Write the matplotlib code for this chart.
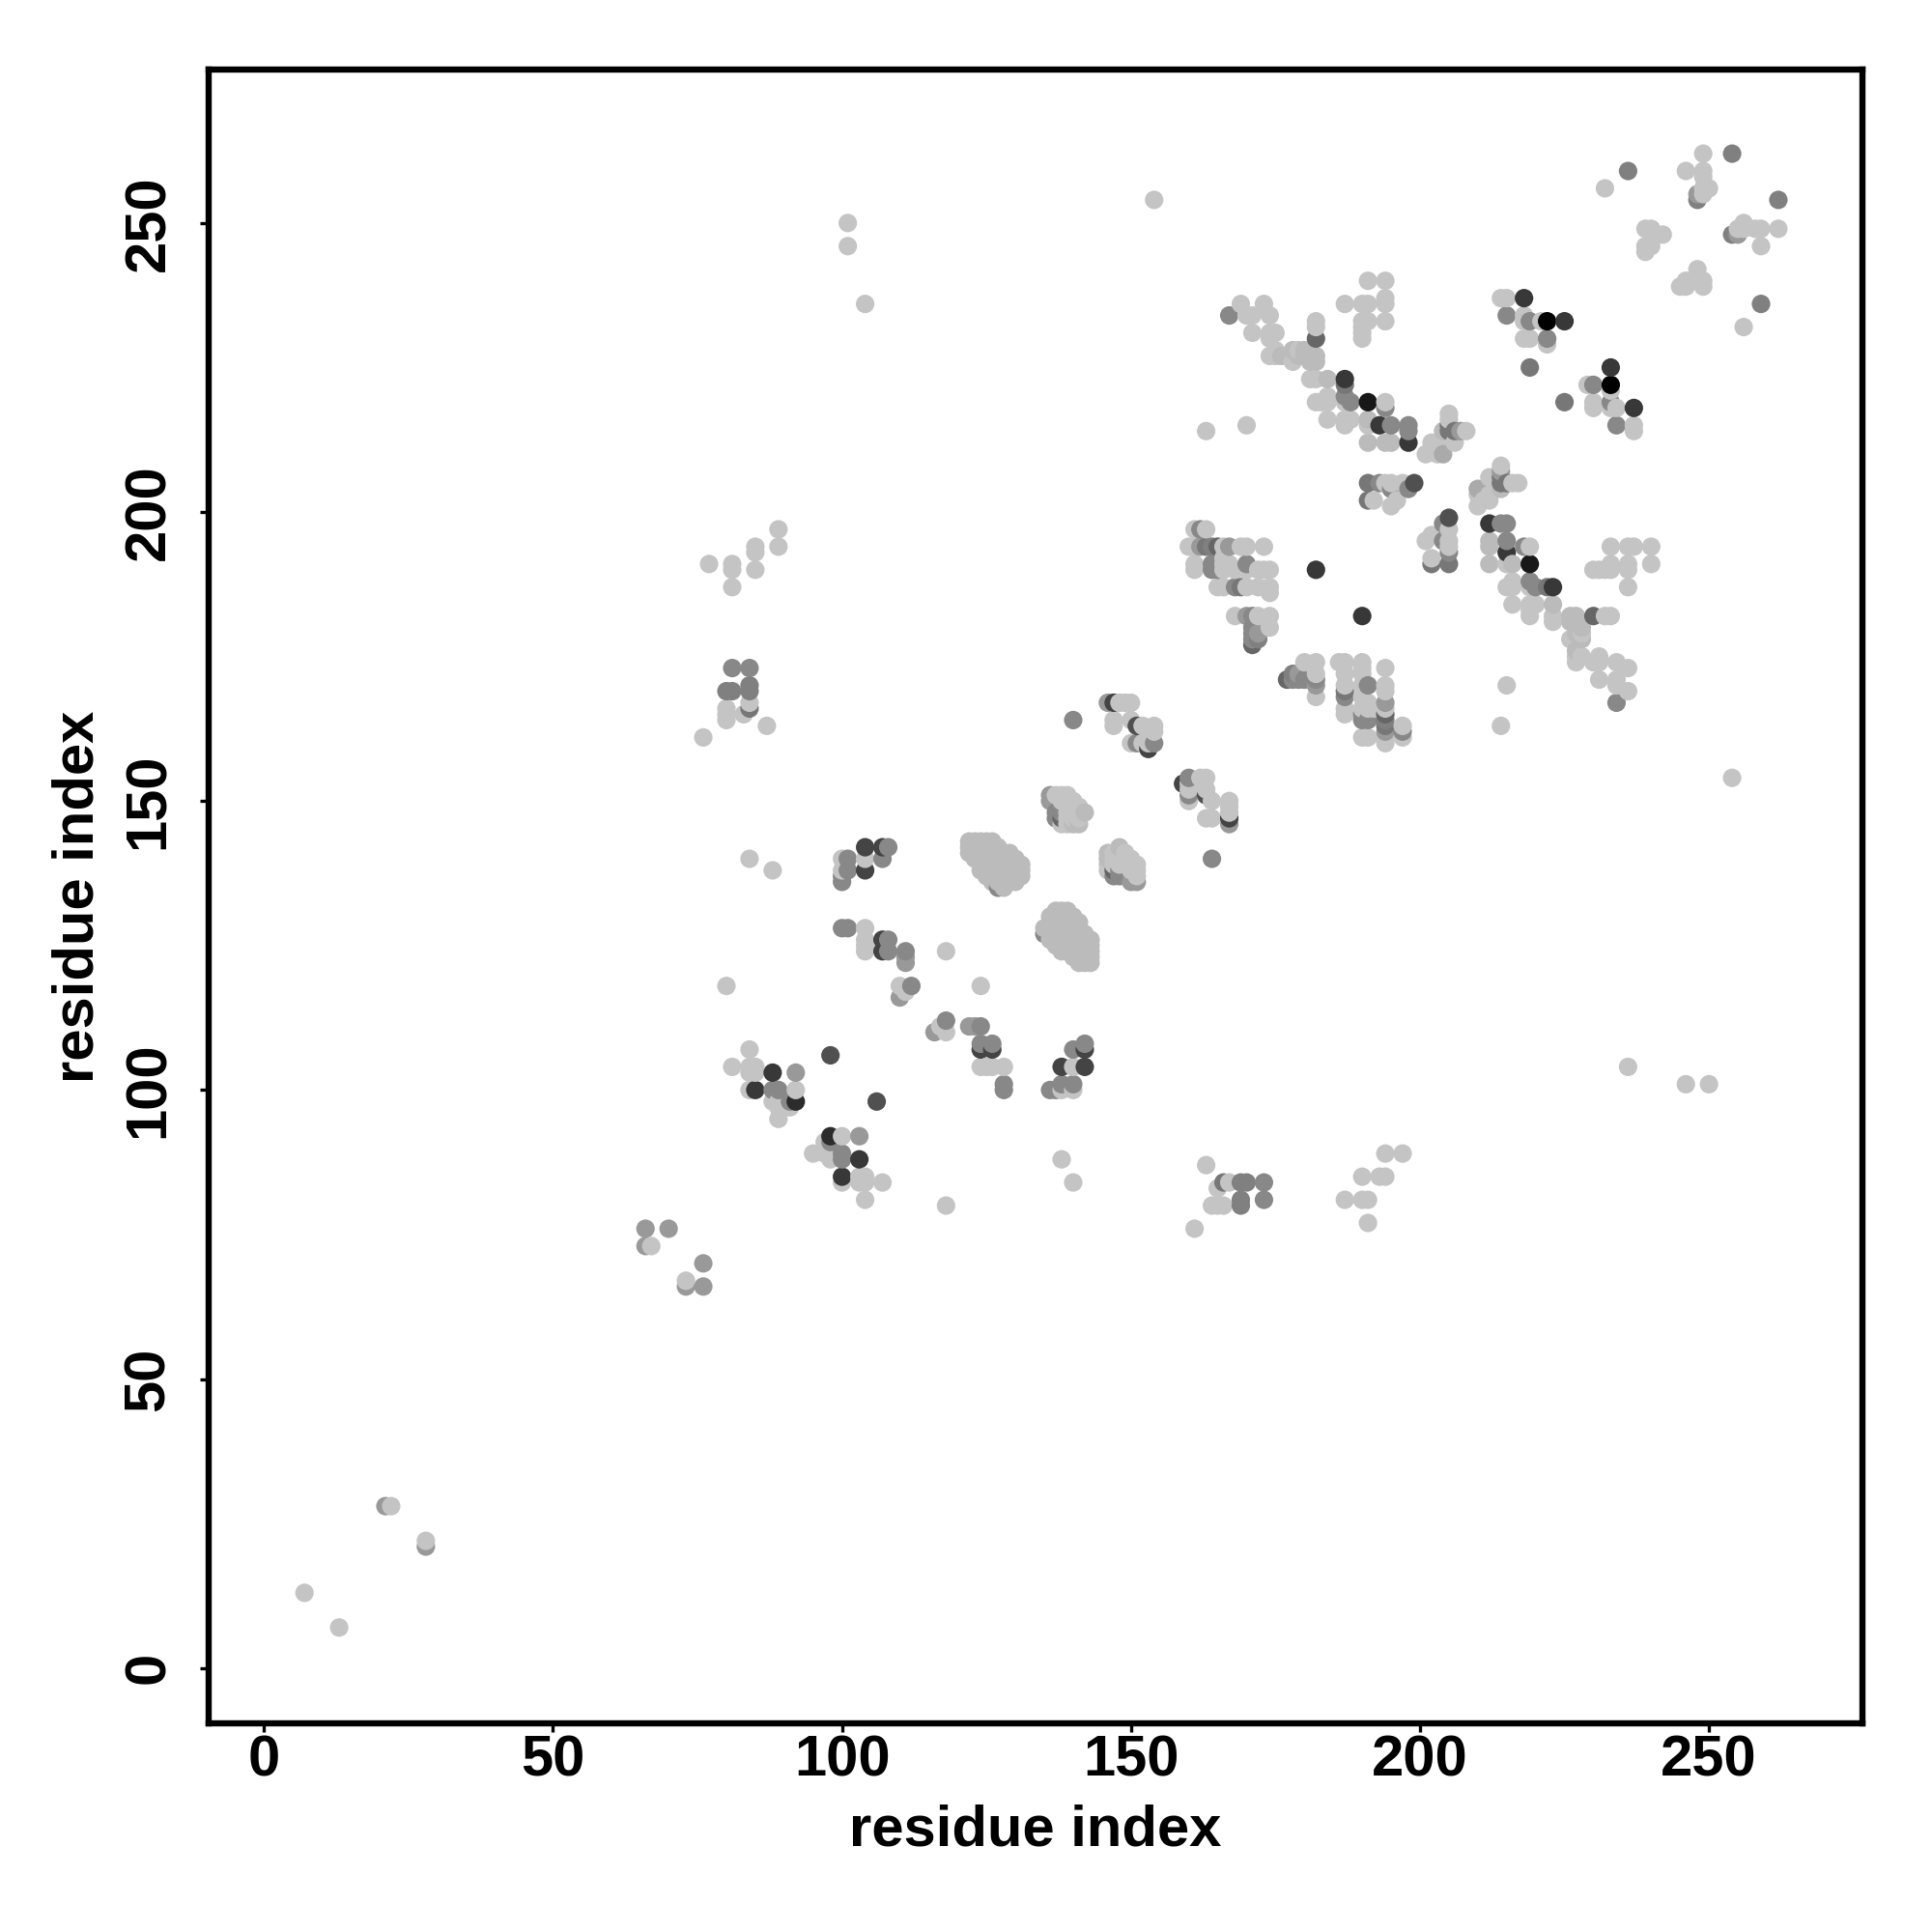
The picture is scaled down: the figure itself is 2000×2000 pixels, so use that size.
import matplotlib
matplotlib.use("Agg")
import matplotlib.pyplot as plt

tick_values = [0, 50, 100, 150, 200, 250]
axis_label = "residue index"

# contacts (i < j) grouped by the grey level of their dot
contacts_00 = [(222, 233)]
contacts_18 = [(191, 219)]
contacts_2c = [(92, 98)]
contacts_38 = [(88, 103), (85, 100), (187, 223), (218, 237), (225, 233), (182, 190), (193, 215), (198, 212)]
contacts_44 = [(104, 142), (107, 142), (104, 138), (107, 124), (107, 126), (147, 167), (153, 159)]
contacts_50 = [(98, 106), (151, 163), (199, 205)]
contacts_66 = [(165, 194), (171, 177), (138, 147), (182, 230)]
contacts_77 = [(163, 194), (169, 187), (191, 205), (191, 202), (219, 225), (205, 214), (205, 215), (206, 214),
               (187, 222), (84, 166)]
contacts_80 = [(80, 169), (81, 169), (84, 169), (84, 170), (164, 194), (236, 259), (254, 262), (248, 254), (172, 178)]
contacts_88 = [(88, 100), (89, 100), (91, 98), (100, 128), (101, 128), (101, 140), (101, 138), (100, 137),
               (100, 136), (107, 140), (108, 142), (108, 124), (108, 126), (111, 124), (112, 118), (84, 173),
               (81, 173), (138, 148), (137, 148), (137, 147), (127, 135), (151, 160), (154, 160), (140, 164),
               (168, 187), (164, 191), (164, 190), (165, 190), (170, 191), (171, 178), (171, 179), (171, 180),
               (171, 182), (162, 197), (167, 234), (193, 205), (198, 204), (195, 204), (198, 215), (198, 214),
               (195, 215), (215, 234), (219, 233), (222, 230), (194, 218), (187, 220), (188, 219)]
contacts_99 = [(21, 28), (66, 73), (66, 76), (70, 76), (92, 103), (111, 122), (111, 123), (110, 116), (146, 167),
               (136, 151), (136, 150), (172, 179), (170, 182), (167, 194), (162, 194), (207, 214), (248, 255)]
contacts_aa = [(204, 210)]
contacts_bb = [
    (122, 141), (122, 142), (122, 143),
    (123, 140), (123, 141), (123, 142), (123, 143),
    (124, 138), (124, 139), (124, 140), (124, 141), (124, 142), (124, 143),
    (125, 137), (125, 138), (125, 139), (125, 140), (125, 141), (125, 142), (125, 143),
    (126, 136), (126, 137), (126, 138), (126, 139), (126, 140), (126, 141), (126, 142), (126, 143),
    (127, 136), (127, 137), (127, 138), (127, 139), (127, 140), (127, 141), (127, 142),
    (128, 135), (128, 136), (128, 137), (128, 138), (128, 139), (128, 140), (128, 141),
    (129, 136), (129, 137), (129, 138), (129, 139), (129, 140), (129, 141),
    (130, 136), (130, 137), (130, 138), (130, 139), (130, 140),
    (131, 137), (131, 138), (131, 139),
    (142, 148), (141, 146), (140, 146), (184, 223), (191, 216), (191, 212), (194, 212), (195, 212),
    (204, 214), (178, 228), (180, 228), (179, 227), (180, 227), (181, 226), (182, 226), (182, 227), (176, 227),
]
contacts_c4 = [
    (7, 13), (22, 28), (67, 73), (80, 118), (81, 104), (84, 100), (84, 103), (84, 104), (85, 103),
    (85, 104), (84, 107), (88, 98), (89, 98), (89, 97), (89, 95), (91, 97), (92, 100), (100, 140),
    (100, 138), (104, 140), (104, 124), (104, 125), (104, 126), (104, 128), (84, 140), (88, 138),
    (110, 118), (111, 117), (118, 124), (76, 161), (80, 164), (80, 165), (80, 166), (83, 165),
    (84, 167), (87, 163), (77, 191), (81, 190), (81, 191), (81, 187), (85, 190), (85, 193), (85, 194),
    (89, 194), (89, 197), (101, 246), (101, 250), (104, 236), (154, 254), (163, 214), (170, 215),
    (137, 151), (138, 151), (139, 151), (138, 150), (139, 150), (140, 150), (139, 149), (140, 149),
    (141, 149), (139, 148), (140, 148), (141, 148), (139, 147), (140, 147), (141, 147), (138, 146),
    (139, 146), (148, 167), (149, 167), (150, 167), (147, 164), (147, 163), (150, 164), (152, 163),
    (154, 163), (154, 162), (150, 160), (152, 160), (153, 160), (161, 190), (161, 191), (161, 194),
    (160, 194), (161, 197), (163, 197), (166, 194), (169, 194), (170, 194), (173, 194), (166, 192),
    (166, 190), (166, 191), (167, 191), (168, 190), (170, 190), (172, 190), (173, 190), (174, 190),
    (165, 187), (166, 187), (170, 187), (172, 187), (174, 187), (174, 186), (168, 182), (172, 182),
    (174, 182), (174, 180), (169, 236), (173, 236), (170, 234), (171, 234), (174, 234), (171, 231),
    (174, 231), (175, 231), (174, 230), (174, 227), (175, 228), (175, 227), (179, 228), (178, 226),
    (182, 233), (182, 232), (181, 223), (182, 223), (182, 219), (183, 219), (184, 219), (184, 220),
    (187, 219), (184, 216), (187, 215), (187, 216), (188, 216), (191, 215), (191, 240), (194, 240),
    (187, 236), (190, 236), (191, 236), (194, 237), (194, 236), (190, 233), (191, 233), (194, 233),
    (190, 230), (190, 231), (190, 232), (192, 202), (194, 219), (195, 205), (197, 205), (196, 202),
    (195, 201), (202, 212), (203, 212), (202, 211), (206, 212), (208, 214), (205, 217), (205, 216),
    (201, 210), (203, 210), (214, 237), (215, 237), (218, 234), (218, 233), (221, 233), (218, 230),
    (219, 230), (222, 229), (230, 219), (230, 218), (233, 221), (234, 218), (237, 215), (237, 214),
    (232, 256), (246, 259), (249, 259), (249, 258), (249, 262), (250, 256), (249, 255), (249, 256),
    (239, 249), (240, 249), (242, 248), (240, 246), (239, 246), (239, 245), (194, 205), (195, 205),
]

shade_levels = [0xc4, 0xbb, 0xaa, 0x99, 0x88, 0x80, 0x77, 0x66, 0x50, 0x44, 0x38, 0x2c, 0x18, 0x00]
shade_groups = [contacts_c4, contacts_bb, contacts_aa, contacts_99, contacts_88, contacts_80, contacts_77,
                contacts_66, contacts_50, contacts_44, contacts_38, contacts_2c, contacts_18, contacts_00]

# the map is symmetric: every contact is drawn at (i, j) and (j, i); later residues lie on top
points = {}
for level, group in zip(shade_levels, shade_groups):
    for i, j in group:
        points[(i, j)] = level
        points[(j, i)] = level
ordered = sorted(points)
xs = [p[0] for p in ordered]
ys = [p[1] for p in ordered]
colors = ["#%02x%02x%02x" % (points[p], points[p], points[p]) for p in ordered]

plt.rcParams["font.family"] = ["Liberation Sans", "DejaVu Sans"]
plt.rcParams["font.weight"] = "bold"

fig = plt.figure(figsize=(20, 20), dpi=100)
ax = fig.add_axes([216 / 2000, 216 / 2000, 1712.3 / 2000, 1712.3 / 2000])
ax.scatter(xs, ys, s=190, c=colors, linewidths=0, zorder=3)
ax.set_xlim(-9.58, 276.6)
ax.set_ylim(-9.58, 276.6)
ax.set_xticks(tick_values)
ax.set_yticks(tick_values)
ax.tick_params(axis="x", length=6.2, width=2.4, labelsize=43, pad=2, color="black")
ax.tick_params(axis="y", length=6.2, width=2.4, labelsize=43, pad=38, color="black")
for lab in ax.get_yticklabels():
    lab.set_rotation(90)
    lab.set_va("center")
    lab.set_ha("center")
for spine in ax.spines.values():
    spine.set_linewidth(4.6)
    spine.set_joinstyle("round")
ax.set_xlabel(axis_label, fontsize=43, fontweight="bold", va="center")
ax.xaxis.set_label_coords(0.5, -(1895 - 1784) / 1712.3)
ax.set_ylabel(axis_label, fontsize=43, fontweight="bold", va="center", rotation=90)
ax.yaxis.set_label_coords((81 - 216) / 1712.3, 0.5)
fig.savefig("out.png", dpi=100, facecolor="white")
